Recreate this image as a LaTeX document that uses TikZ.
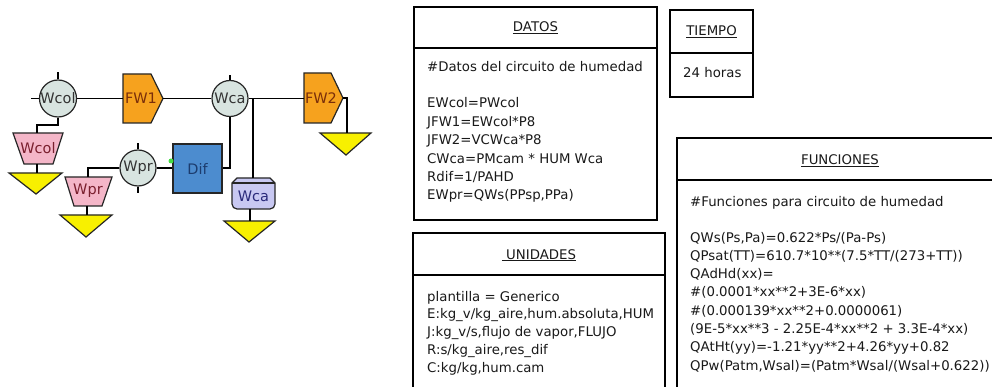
\documentclass[tikz,border=0pt]{standalone}
\usepackage{fontspec}
\setmainfont{DejaVu Sans}
\definecolor{circfill}{HTML}{D8E4E0}
\definecolor{fworange}{HTML}{F6A21E}
\definecolor{fwtext}{HTML}{7A2E0A}
\definecolor{trappink}{HTML}{F4B6C8}
\definecolor{traptext}{HTML}{7A1F2E}
\definecolor{triyellow}{HTML}{F8F000}
\definecolor{difblue}{HTML}{4C8CCF}
\definecolor{diftext}{HTML}{1C3C6E}
\definecolor{tanklav}{HTML}{C8C8F2}
\definecolor{tanktext}{HTML}{2A2A7A}
\definecolor{portgreen}{HTML}{44DD44}
\begin{document}
\begin{tikzpicture}[x=1pt,y=-1pt,
  conn/.style={line width=1.5pt, black},
  outl/.style={draw=black!85, line width=1.2pt},
  circ/.style={circle, outl, fill=circfill, minimum size=36pt, inner sep=0pt,
    font=\fontsize{14.5}{16}\selectfont, text=black!80},
  tri/.style={outl, fill=triyellow},
  trap/.style={outl, fill=trappink},
  fwshape/.style={outl, fill=fworange},
  lbl/.style={inner sep=0pt, font=\fontsize{14.5}{16}\selectfont},
  box/.style={draw=black, line width=1.8pt},
  boxtext/.style={anchor=base west, inner sep=0pt, font=\fontsize{13.3}{16}\selectfont, text=black!90},
  headtext/.style={anchor=base, inner sep=0pt, font=\fontsize{13.3}{16}\selectfont, text=black!90}
]
\clip (0,0) rectangle (992,387);
\fill[white] (0,0) rectangle (992,387);

% ---------------- diagram ----------------
% circles
\node[circ, minimum size=37pt] (wcol) at (58,98.5) {Wcol};
\node[circ] (wca) at (230,98.5) {Wca};
\node[circ] (wpr) at (138,168) {Wpr};

% ticks
\coordinate (wcoltop) at (58,72);
\coordinate (wcolleft) at (31,98.5);
\coordinate (wcatop) at (230,75);
\coordinate (wprtop) at (138,143);
\coordinate (wprbot) at (138,193);
\draw[conn] (wcol.north) -- (wcoltop);
\draw[conn] (wcol.west) -- (wcolleft);
\draw[conn] (wca.north) -- (wcatop);
\draw[conn] (wpr.north) -- (wprtop);
\draw[conn] (wpr.south) -- (wprbot);

% FW1 and FW2 pentagons
\draw[fwshape] (123,74) -- (151,74) -- (163,98.5) -- (151,123) -- (123,123) -- cycle;
\node[lbl, text=fwtext] (fw1) at (141,98.5) {FW1};
\coordinate (fw1w) at (123,98.5);
\coordinate (fw1e) at (163,98.5);
\draw[fwshape] (304,73) -- (331,73) -- (343,98) -- (331,123) -- (304,123) -- cycle;
\node[lbl, text=fwtext] (fw2) at (321,98) {FW2};
\coordinate (fw2w) at (304,98.5);
\coordinate (fw2e) at (343,98);

% Dif block
\node[outl, fill=difblue, minimum width=49pt, minimum height=49pt, inner sep=0pt,
  font=\fontsize{14.5}{16}\selectfont, text=diftext] (dif) at (197.5,168.5) {Dif};
\fill[portgreen] (171,161) circle (2.5pt);

% trapezoids
\draw[trap] (13,133) -- (63,133) -- (53,164) -- (24,164) -- cycle;
\node[lbl, text=traptext] (wcoltrap) at (38,148) {Wcol};
\coordinate (wcoltrapt) at (37,133);
\coordinate (wcoltrapb) at (37,164);
\draw[trap] (65,177) -- (112,177) -- (102,206) -- (74,206) -- cycle;
\node[lbl, text=traptext] (wprtrap) at (88,191) {Wpr};
\coordinate (wprtrapt) at (88,177);
\coordinate (wprtrapb) at (87,206);

% tank
\draw[outl, fill=tanklav] (232,183) [rounded corners=5pt] -- (232,209) -- (275,209) [sharp corners] -- (275,183) -- (270,178) -- (237,178) -- cycle;
\draw[outl] (232,183) -- (275,183);
\node[lbl, text=tanktext] (tank) at (253.5,196) {Wca};
\coordinate (tanktop) at (253,178);
\coordinate (tankbot) at (250,209);

% triangles
\draw[tri] (9,173) -- (62,173) -- (36,194) -- cycle;
\coordinate (tri1) at (37,173);
\draw[tri] (60,215) -- (112,215) -- (86,237) -- cycle;
\coordinate (tri2) at (87,215);
\draw[tri] (224,221) -- (275,221) -- (249,242) -- cycle;
\coordinate (tri3) at (250,221);
\draw[tri] (320,133) -- (371,133) -- (346,155) -- cycle;
\coordinate (tri4) at (347,133);

% connectors
\coordinate (split) at (253,98.5);
\draw[conn] (wcol.east) -- (fw1w);
\draw[conn] (fw1e) -- (wca.west);
\draw[conn] (wca.east) -- (fw2w);
\draw[conn] (split) -- (tanktop);
\draw[conn] (fw2e) -| (tri4);
\draw[conn] (wcol.south) |- (37,125) -- (wcoltrapt);
\draw[conn] (wcoltrapb) -- (tri1);
\draw[conn] (wpr.west) -| (wprtrapt);
\draw[conn] (wprtrapb) -- (tri2);
\draw[conn] (wpr.east) -- (dif.west |- wpr.east);
\draw[conn] (wca.south) |- (dif.east |- 0,168);
\draw[conn] (tankbot) -- (tri3);

% ---------------- text boxes ----------------
% DATOS
\draw[box] (414,7) rectangle (657,220);
\draw[box] (414,48) -- (657,48);
\node[headtext] (dh) at (535.5,32) {\underline{DATOS}};
\node[boxtext] (d0) at (427,72) {\#Datos del circuito de humedad};
\node[boxtext] (d1) at (427,108) {EWcol=PWcol};
\node[boxtext] (d2) at (427,126.4) {JFW1=EWcol*P8};
\node[boxtext] (d3) at (427,144.8) {JFW2=VCWca*P8};
\node[boxtext] (d4) at (427,163.2) {CWca=PMcam * HUM Wca};
\node[boxtext] (d5) at (427,181.6) {Rdif=1/PAHD};
\node[boxtext] (d6) at (427,200) {EWpr=QWs(PPsp,PPa)};

% TIEMPO
\draw[box] (670,10) rectangle (753,97);
\draw[box] (670,53) -- (753,53);
\node[headtext] (th) at (711.5,36) {\underline{TIEMPO}};
\node[boxtext] (t1) at (683,78) {24 horas};

% UNIDADES
\draw[box] (413,233) rectangle (665,400);
\draw[box] (413,275) -- (665,275);
\node[headtext] (uh) at (539,259) {\underline{\ UNIDADES}};
\node[boxtext] (u1) at (427,301) {plantilla = Generico};
\node[boxtext] (u2) at (427,318.8) {E:kg\_v/kg\_aire,hum.absoluta,HUM};
\node[boxtext] (u3) at (427,336.6) {J:kg\_v/s,flujo de vapor,FLUJO};
\node[boxtext] (u4) at (427,354.4) {R:s/kg\_aire,res\_dif};
\node[boxtext] (u5) at (427,372.2) {C:kg/kg,hum.cam};

% FUNCIONES
\draw[box] (677,138) rectangle (1003,400);
\draw[box] (677,180) -- (1003,180);
\node[headtext] (fh) at (840,165) {\underline{FUNCIONES}};
\node[boxtext] (f0) at (690,207) {\#Funciones para circuito de humedad};
\node[boxtext] (f1) at (690,242) {QWs(Ps,Pa)=0.622*Ps/(Pa-Ps)};
\node[boxtext] (f2) at (690,260.3) {QPsat(TT)=610.7*10**(7.5*TT/(273+TT))};
\node[boxtext] (f3) at (690,278.6) {QAdHd(xx)=};
\node[boxtext] (f4) at (690,296.9) {\#(0.0001*xx**2+3E-6*xx)};
\node[boxtext] (f5) at (690,315.2) {\#(0.000139*xx**2+0.0000061)};
\node[boxtext] (f6) at (690,333.5) {(9E-5*xx**3 - 2.25E-4*xx**2 + 3.3E-4*xx)};
\node[boxtext] (f7) at (690,351.8) {QAtHt(yy)=-1.21*yy**2+4.26*yy+0.82};
\node[boxtext] (f8) at (690,370.1) {QPw(Patm,Wsal)=(Patm*Wsal/(Wsal+0.622))};
\end{tikzpicture}
\end{document}
